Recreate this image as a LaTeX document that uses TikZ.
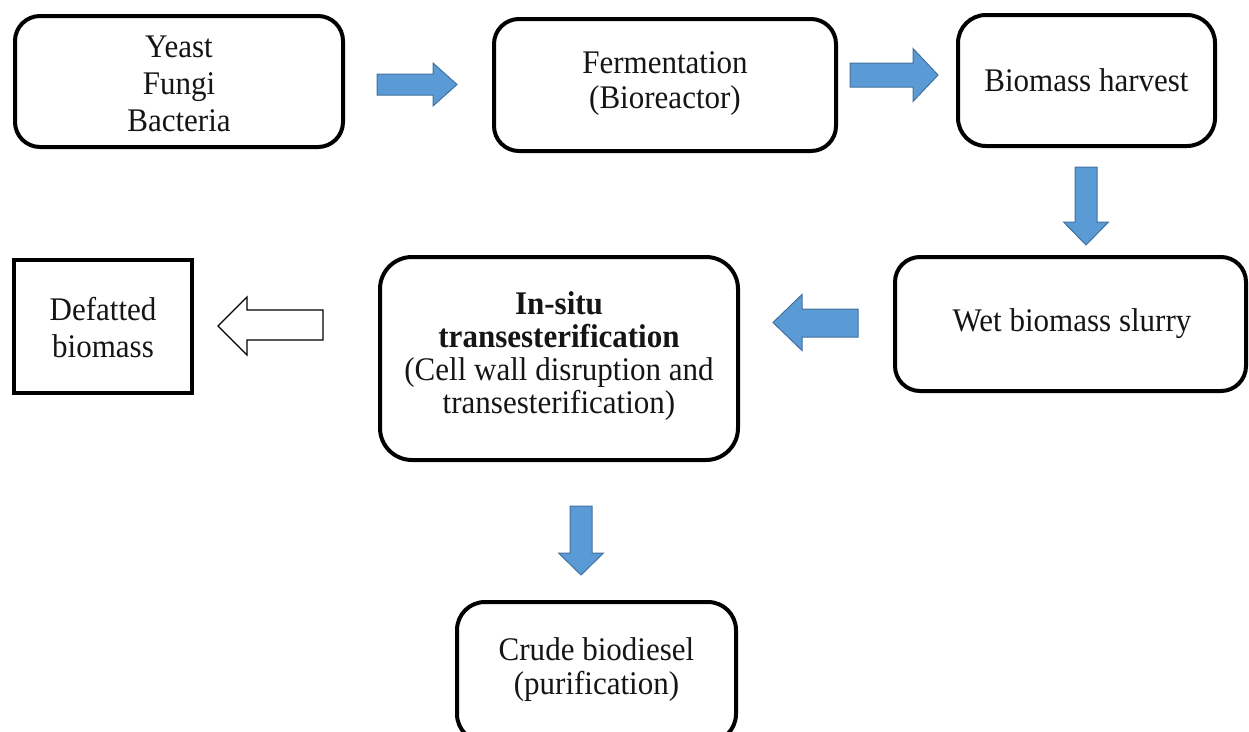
\documentclass[tikz,border=0pt]{standalone}
\usepackage{fontspec}
\setmainfont{Liberation Serif}[FakeStretch=0.94]
\definecolor{arrowblue}{HTML}{5B9BD5}
\definecolor{arrowedge}{HTML}{41719C}
\definecolor{ink}{HTML}{151515}
\begin{document}
\begin{tikzpicture}[x=1pt,y=-1pt,
  box/.style={draw=black, line width=4pt, rounded corners=25pt, align=center, inner sep=0pt},
  plainbox/.style={draw=black, line width=4.5pt, align=center, inner sep=0pt},
  label/.style={text=ink, align=center, inner sep=0pt},
  blockarrow/.style={fill=arrowblue, draw=arrowedge, line width=1pt, line join=miter},
  hollowarrow/.style={fill=white, draw=black, line width=1.2pt, line join=miter}]
\useasboundingbox (0,0) rectangle (1249,731);
\clip (0,0) rectangle (1249,731);
% boxes
\node[box, minimum width=328pt, minimum height=131pt] (src) at (179,81.5) {};
\node[label, font={\fontsize{33}{37}\selectfont}] (srct) at (179,84) {Yeast\\Fungi\\Bacteria};
\node[box, minimum width=342pt, minimum height=132pt] (ferm) at (665,85) {};
\node[label, font={\fontsize{33}{35}\selectfont}] (fermt) at (665,84) {Fermentation\\(Bioreactor)};
\node[box, minimum width=257pt, minimum height=131pt, rounded corners=28pt] (harv) at (1086.5,80.5) {};
\node[label, font={\fontsize{33}{35}\selectfont}] (harvt) at (1086.5,80.5) {Biomass harvest};
\node[box, minimum width=351pt, minimum height=134pt] (wet) at (1070.5,324) {};
\node[label, font={\fontsize{33}{35}\selectfont}] (wett) at (1072,324) {Wet biomass slurry};
\node[box, minimum width=358pt, minimum height=203pt, rounded corners=32pt] (insitu) at (559,358.5) {};
\node[label, font={\fontsize{33}{33}\selectfont}] (insitut) at (559,356) {\textbf{In-situ}\\\textbf{transesterification}\\(Cell wall disruption and\\transesterification)};
\node[box, minimum width=279pt, minimum height=140pt, rounded corners=28pt] (crude) at (596.5,672) {};
\node[label, font={\fontsize{33}{34}\selectfont}] (crudet) at (596.5,670) {Crude biodiesel\\(purification)};
\node[plainbox, minimum width=178pt, minimum height=133pt] (defat) at (103,326.5) {};
\node[label, font={\fontsize{33}{37}\selectfont}] (defatt) at (103,328) {Defatted\\biomass};
% block arrows
\path[blockarrow] (377,74) -- (433,74) -- (433,63) -- (457,84.5) -- (433,106) -- (433,95) -- (377,95) -- cycle;
\path[blockarrow] (850,63) -- (913,63) -- (913,48.5) -- (938,75) -- (913,101.5) -- (913,87) -- (850,87) -- cycle;
\path[blockarrow] (1075,167) -- (1097,167) -- (1097,222) -- (1108.5,222) -- (1086,245) -- (1063.5,222) -- (1075,222) -- cycle;
\path[blockarrow] (858,309) -- (802,309) -- (802,294.5) -- (773,322.5) -- (802,350.5) -- (802,337) -- (858,337) -- cycle;
\path[blockarrow] (570,506) -- (592,506) -- (592,553) -- (603.5,553) -- (581,575) -- (558.5,553) -- (570,553) -- cycle;
\path[hollowarrow] (323,310) -- (247,310) -- (247,297) -- (218,326) -- (247,355) -- (247,340) -- (323,340) -- cycle;
\end{tikzpicture}
\end{document}
